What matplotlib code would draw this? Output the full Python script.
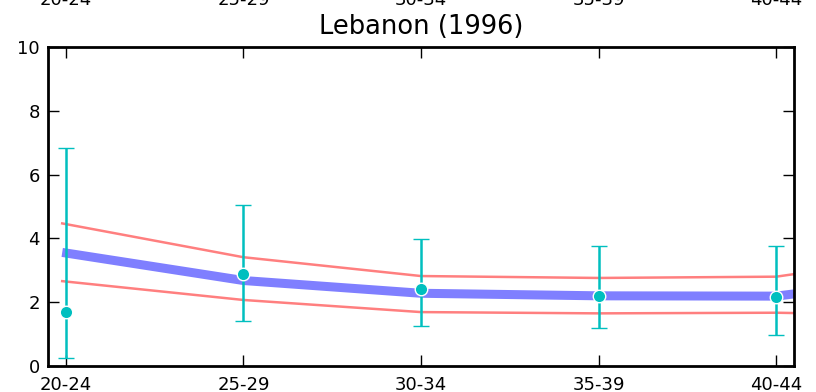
import matplotlib
matplotlib.use("Agg")
import matplotlib.pyplot as plt

# age groups and observed values with error bars
age_groups = ['20-24', '25-29', '30-34', '35-39', '40-44']
observed = [1.70, 2.87, 2.40, 2.19, 2.17]
err_low = [0.25, 1.42, 1.25, 1.18, 0.97]
err_high = [6.83, 5.05, 3.99, 3.77, 3.75]

# model fit and its band (x in category units)
fit_x = [-0.02, 1, 2, 3, 4, 4.1]
fit_mid = [3.56, 2.68, 2.28, 2.20, 2.19, 2.26]
fit_upper = [4.47, 3.41, 2.82, 2.76, 2.80, 2.88]
fit_lower = [2.66, 2.07, 1.69, 1.65, 1.67, 1.66]

positions = list(range(len(age_groups)))
yerr = [[o - l for o, l in zip(observed, err_low)],
        [h - o for o, h in zip(observed, err_high)]]

fig = plt.figure(figsize=(8.16, 3.92), dpi=100)
ax = fig.add_axes([48 / 816, 26 / 392, 746 / 816, 319 / 392])

ax.plot(fit_x, fit_upper, color='red', alpha=0.5, lw=1.8, zorder=2)
ax.plot(fit_x, fit_lower, color='red', alpha=0.5, lw=1.8, zorder=2)
ax.plot(fit_x, fit_mid, color='blue', alpha=0.5, lw=6.5, zorder=2,
        solid_capstyle='butt')
ax.errorbar(positions, observed, yerr=yerr, fmt='o', color='c', ecolor='c',
            elinewidth=1.8, capsize=6, capthick=1.5, markersize=9,
            markeredgecolor='white', markeredgewidth=1, zorder=3)

ax.set_xlim(-0.1, 4.1)
ax.set_ylim(0, 10)
ax.set_xticks(positions)
ax.set_xticklabels(age_groups)
ax.set_yticks([0, 2, 4, 6, 8, 10])

for s in ax.spines.values():
    s.set_linewidth(2)
ax.tick_params(direction='in', length=8, width=1, labelsize=13,
               top=True, right=True)
ax.tick_params(axis='x', pad=7)
ax.tick_params(axis='y', pad=6)

# duplicated labels on top, pushed far up (mostly clipped off the figure)
top = ax.secondary_xaxis('top')
top.set_xticks(positions)
top.set_xticklabels(age_groups)
top.spines['top'].set_visible(False)
top.tick_params(length=0, labelsize=13, pad=27)

ax.set_title('Lebanon (1996)', fontsize=18.5, y=1.0, pad=9)

fig.savefig('out.png', dpi=100)
